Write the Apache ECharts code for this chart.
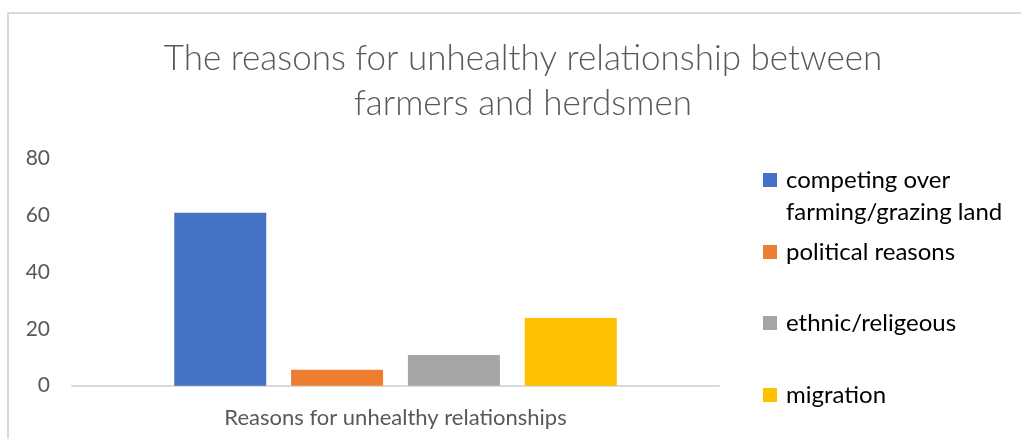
<!DOCTYPE html>
<html>
<head>
<meta charset="utf-8">
<script src="https://cdn.jsdelivr.net/npm/echarts@6/dist/echarts.min.js"></script>
<style>
html,body{margin:0;padding:0;background:#fff;}
#c{width:1021px;height:439px;}
</style>
</head>
<body>
<div id="c"></div>
<script>
const categories = ['Reasons for unhealthy relationships'];
const seriesNames = ['competing over\nfarming/grazing land', 'political reasons', 'ethnic/religeous', 'migration'];
const seriesValues = [60.8, 5.6, 10.8, 23.8];
const seriesColors = ['#4472C4', '#ED7D31', '#A5A5A5', '#FFC000'];
const yTicks = [0, 20, 40, 60, 80];

const FONT = 'Lato, "Liberation Sans", sans-serif';
const legendCenters = [180, 252, 323, 395];

const chart = echarts.init(document.getElementById('c'), null, {renderer: 'canvas'});
const legends = seriesNames.map((n, i) => ({
  data: [n],
  left: 763,
  top: i === 0 ? legendCenters[i] - 48 : legendCenters[i] - 16,
  orient: 'vertical',
  padding: 0,
  itemWidth: 14,
  itemHeight: 14,
  icon: 'rect',
  selectedMode: false,
  formatter: (name) => (i === 0 ? ' \n' + name : name),
  textStyle: {fontFamily: FONT, fontSize: 24, color: '#000', lineHeight: 32, padding: [0, 0, 0, 4]}
}));

chart.setOption({
  animation: false,
  backgroundColor: '#fff',
  title: {
    text: 'The reasons for unhealthy relationship between\nfarmers and herdsmen',
    left: 523, top: 36, textAlign: 'center', padding: 0,
    textStyle: {fontFamily: FONT, fontWeight: 300, fontSize: 35, color: '#595959', lineHeight: 45}
  },
  graphic: [{
    type: 'polyline',
    shape: {points: [[8, 439], [8, 13], [1021, 13]]},
    style: {stroke: '#d9d9d9', lineWidth: 2, fill: null},
    silent: true
  }],
  legend: legends,
  grid: {left: 72, right: 302, top: 158, bottom: 53.3, containLabel: false},
  xAxis: {
    type: 'category',
    data: categories,
    axisLine: {lineStyle: {color: '#d9d9d9', width: 2}},
    axisTick: {show: false},
    axisLabel: {fontFamily: FONT, fontSize: 22, color: '#595959', margin: 21}
  },
  yAxis: {
    type: 'value',
    min: yTicks[0], max: yTicks[yTicks.length - 1], interval: 20,
    axisLine: {show: false},
    axisTick: {show: false},
    splitLine: {show: false},
    axisLabel: {fontFamily: FONT, fontSize: 21, color: '#595959', margin: 22}
  },
  series: seriesNames.map((n, i) => ({
    name: n,
    type: 'bar',
    data: [seriesValues[i]],
    barWidth: 92,
    barGap: '27%',
    itemStyle: {color: seriesColors[i]}
  })),
  color: seriesColors
});
</script>
</body>
</html>
